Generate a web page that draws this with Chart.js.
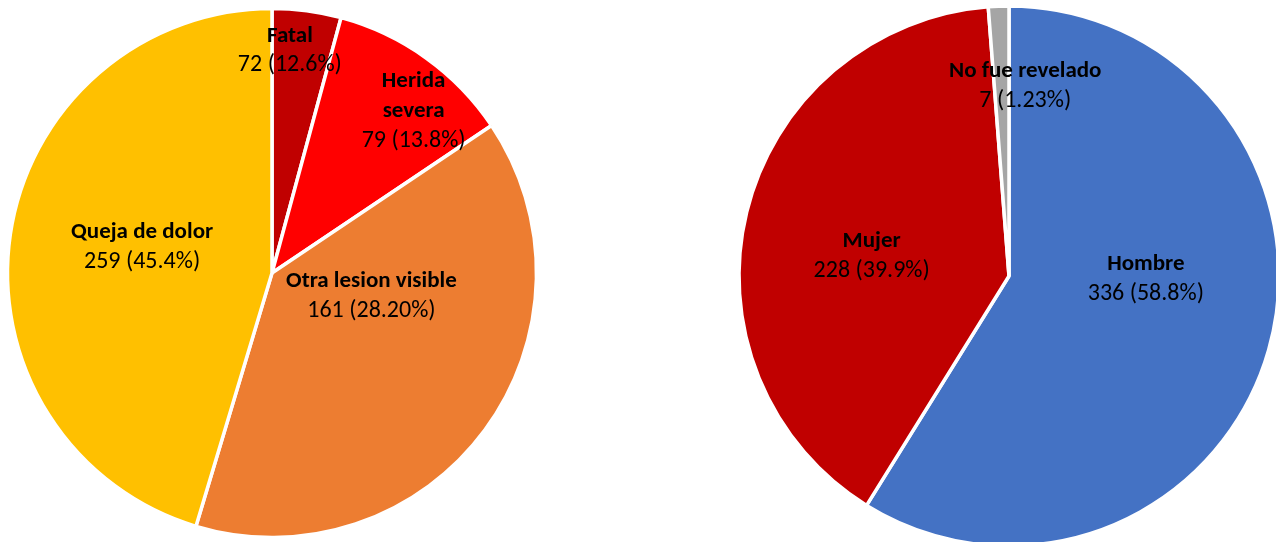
<!DOCTYPE html>
<html>
<head>
<meta charset="utf-8">
<script src="https://cdn.jsdelivr.net/npm/chart.js@4.4.1/dist/chart.umd.min.js"></script>
<style>
  html, body { margin: 0; padding: 0; background: #fff; }
  body { width: 1276px; height: 542px; overflow: hidden; position: relative; }
  .pie { position: absolute; }
  #left { left: 0; top: 1px; }
  #right { left: 729px; top: -4px; }
</style>
</head>
<body>
<div class="pie" id="left"><canvas id="leftChart" width="544" height="544"></canvas></div>
<div class="pie" id="right"><canvas id="rightChart" width="560" height="560"></canvas></div>
<script>
// grafico izquierdo: gravedad
const leftCategories = ['Fatal', 'Herida severa', 'Otra lesion visible', 'Queja de dolor'];
const leftCounts = [72, 79, 161, 259];
const leftPercents = ['12.6%', '13.8%', '28.20%', '45.4%'];
// tamaño de las porciones tal como se ven en la imagen (no coinciden con las etiquetas)
const leftSlices = [24, 65, 223, 259];
const leftColors = ['#C00000', '#FF0000', '#ED7D31', '#FFC000'];

// grafico derecho: sexo
const rightCategories = ['Hombre', 'Mujer', 'No fue revelado'];
const rightCounts = [336, 228, 7];
const rightPercents = ['58.8%', '39.9%', '1.23%'];
const rightColors = ['#4472C4', '#C00000', '#A5A5A5'];

// posicion de etiquetas: angulo (grados desde arriba) y distancia relativa al radio
const leftLabelPlace = [
  { a: 4.6, d: 0.843 },
  { a: 41.2, d: 0.813, wrap: true },
  { a: 103.1, d: 0.386 },
  { a: 281.4, d: 0.501 }
];
const rightLabelPlace = [
  { a: 91.3, d: 0.507 },
  { a: 278.2, d: 0.514 },
  { a: 4.9, d: 0.705 }
];

const FONT = 'Carlito, Calibri, Lato, sans-serif';

const pieLabels = {
  id: 'pieLabels',
  afterDatasetsDraw(chart, args, opts) {
    const ctx = chart.ctx;
    const arcs = chart.getDatasetMeta(0).data;
    if (!arcs.length) return;
    const cx = arcs[0].x, cy = arcs[0].y, r = arcs[0].outerRadius;
    ctx.save();
    ctx.fillStyle = '#000';
    ctx.textAlign = 'center';
    ctx.textBaseline = 'middle';
    const lh = 29.5;
    opts.names.forEach((name, i) => {
      const p = opts.place[i];
      const ang = p.a * Math.PI / 180;
      const x = cx + Math.sin(ang) * r * p.d;
      const y = cy - Math.cos(ang) * r * p.d;
      const lines = p.wrap ? name.split(' ') : [name];
      const all = lines.length + 1;
      let y0 = y - (all - 1) * lh / 2;
      ctx.font = 'bold 23px ' + FONT;
      lines.forEach((t, k) => ctx.fillText(t, x, y0 + k * lh));
      ctx.font = '24px ' + FONT;
      ctx.fillText(opts.counts[i] + ' (' + opts.percents[i] + ')', x, y0 + lines.length * lh);
    });
    ctx.restore();
  }
};

function makePie(id, labels, values, colors, radius, names, counts, percents, place) {
  return new Chart(document.getElementById(id), {
    type: 'pie',
    data: {
      labels: labels,
      datasets: [{
        data: values,
        backgroundColor: colors,
        borderColor: '#ffffff',
        borderWidth: 3.5,
        hoverOffset: 0
      }]
    },
    options: {
      responsive: false,
      animation: false,
      radius: radius,
      layout: { padding: 0 },
      plugins: {
        legend: { display: false },
        tooltip: { enabled: false },
        pieLabels: { names: names, counts: counts, percents: percents, place: place }
      }
    },
    plugins: [pieLabels]
  });
}

makePie('leftChart', leftCategories, leftSlices, leftColors, 264.5,
  leftCategories, leftCounts, leftPercents, leftLabelPlace);
makePie('rightChart', rightCategories, rightCounts, rightColors, 270,
  rightCategories, rightCounts, rightPercents, rightLabelPlace);
</script>
</body>
</html>
